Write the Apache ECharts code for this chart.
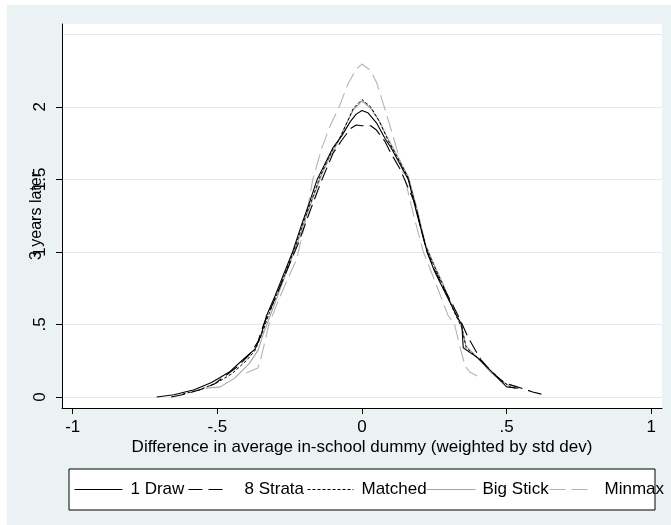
<!DOCTYPE html>
<html>
<head>
<meta charset="utf-8">
<script src="https://cdn.jsdelivr.net/npm/echarts@6/dist/echarts.min.js"></script>
<style>
  html, body { margin: 0; padding: 0; background: #ffffff; }
  #chart { width: 671px; height: 525px; }
</style>
</head>
<body>
<div id="chart"></div>
<script>
// Axis ticks and their Stata-style labels
const xTicks = [-1, -0.5, 0, 0.5, 1];
const xTickLabels = ['-1', '-.5', '0', '.5', '1'];
const yTicks = [0, 0.5, 1, 1.5, 2];
const yTickLabels = ['0', '.5', '1', '1.5', '2'];
const yGridLines = [0, 0.5, 1, 1.5, 2, 2.5];

const seriesNames = ['1 Draw', '8 Strata', 'Matched', 'Big Stick', 'Minmax'];

// Kernel density estimates, one pair of arrays per specification
const oneDrawX = [-0.71, -0.65, -0.58, -0.52, -0.46, -0.41, -0.37, -0.35, -0.33, -0.30, -0.27, -0.24, -0.21, -0.18, -0.155, -0.13, -0.10, -0.07, -0.04, -0.02, 0.00,
                  0.02, 0.05, 0.08, 0.10, 0.13, 0.16, 0.19, 0.225, 0.25, 0.287, 0.33, 0.345, 0.35, 0.40, 0.44, 0.47, 0.50, 0.54];
const oneDrawY = [0.00, 0.015, 0.05, 0.10, 0.17, 0.26, 0.33, 0.42, 0.56, 0.70, 0.85, 1.00, 1.18, 1.35, 1.50, 1.60, 1.72, 1.80, 1.90, 1.95, 1.975,
                  1.96, 1.89, 1.78, 1.72, 1.61, 1.50, 1.26, 1.00, 0.87, 0.72, 0.55, 0.50, 0.34, 0.27, 0.19, 0.13, 0.07, 0.06];

const eightStrataX = [-0.66, -0.61, -0.56, -0.51, -0.47, -0.43, -0.39, -0.36, -0.34, -0.30, -0.26, -0.22, -0.18, -0.14, -0.10, -0.07, -0.04, -0.02,
                      0.00, 0.03, 0.05, 0.08, 0.10, 0.132, 0.16, 0.184, 0.205, 0.225, 0.25, 0.28, 0.31, 0.34, 0.367, 0.41, 0.45, 0.49, 0.52, 0.56, 0.59, 0.62];
const eightStrataY = [0.00, 0.02, 0.05, 0.09, 0.15, 0.21, 0.29, 0.38, 0.50, 0.68, 0.87, 1.06, 1.28, 1.49, 1.68, 1.77, 1.85, 1.875,
                      1.87, 1.87, 1.84, 1.76, 1.68, 1.57, 1.44, 1.33, 1.15, 1.00, 0.88, 0.76, 0.65, 0.53, 0.41, 0.26, 0.17, 0.10, 0.08, 0.055, 0.035, 0.02];

const matchedX = [-0.62, -0.56, -0.50, -0.45, -0.40, -0.37, -0.345, -0.32, -0.29, -0.26, -0.23, -0.20, -0.17, -0.145, -0.12, -0.10, -0.08, -0.05, -0.03, 0.00,
                  0.03, 0.06, 0.09, 0.12, 0.16, 0.19, 0.22, 0.25, 0.28, 0.32, 0.345, 0.36, 0.40, 0.44, 0.48, 0.51, 0.53];
const matchedY = [0.02, 0.05, 0.10, 0.16, 0.25, 0.32, 0.44, 0.58, 0.73, 0.88, 1.04, 1.22, 1.38, 1.52, 1.63, 1.71, 1.77, 1.90, 1.99, 2.05,
                  2.00, 1.90, 1.77, 1.66, 1.51, 1.28, 1.04, 0.90, 0.77, 0.58, 0.48, 0.34, 0.27, 0.19, 0.12, 0.07, 0.06];

const bigStickX = [-0.54, -0.49, -0.44, -0.39, -0.36, -0.34, -0.31, -0.28, -0.25, -0.22, -0.19, -0.16, -0.14, -0.11, -0.09, -0.06, -0.03, 0.00,
                   0.03, 0.06, 0.09, 0.12, 0.16, 0.19, 0.22, 0.25, 0.28, 0.32, 0.345, 0.36, 0.40, 0.44, 0.48, 0.51, 0.535];
const bigStickY = [0.06, 0.07, 0.13, 0.23, 0.32, 0.44, 0.60, 0.76, 0.92, 1.08, 1.26, 1.42, 1.53, 1.66, 1.73, 1.86, 1.98, 2.04,
                   1.99, 1.90, 1.78, 1.67, 1.52, 1.30, 1.05, 0.91, 0.78, 0.59, 0.48, 0.35, 0.27, 0.18, 0.11, 0.08, 0.07];

const minmaxX = [-0.40, -0.36, -0.35, -0.322, -0.29, -0.26, -0.226, -0.20, -0.17, -0.14, -0.11, -0.079, -0.05, -0.02, 0.00,
                 0.03, 0.05, 0.077, 0.11, 0.149, 0.18, 0.212, 0.24, 0.267, 0.298, 0.31, 0.32, 0.339, 0.357, 0.374, 0.398];
const minmaxY = [0.165, 0.20, 0.26, 0.50, 0.66, 0.80, 0.95, 1.17, 1.50, 1.71, 1.87, 2.00, 2.15, 2.26, 2.295,
                 2.25, 2.17, 2.00, 1.78, 1.50, 1.24, 1.00, 0.86, 0.72, 0.56, 0.53, 0.50, 0.34, 0.21, 0.17, 0.145];

const pairs = (xs, ys) => xs.map((x, i) => [x, ys[i]]);

const lookupLabel = (ticks, labels) => v => {
  for (let i = 0; i < ticks.length; i++) {
    if (Math.abs(ticks[i] - v) < 1e-9) return labels[i];
  }
  return '';
};

const font = '"Liberation Sans", Arial, sans-serif';

const styles = [
  { color: '#000000', width: 1.1, type: 'solid' },
  { color: '#000000', width: 1.1, type: [14, 6] },
  { color: '#000000', width: 1.0, type: [3, 2] },
  { color: '#a4a4a4', width: 1.1, type: 'solid' },
  { color: '#b4b4b4', width: 1.1, type: [16, 6] }
];
const dataSets = [
  pairs(oneDrawX, oneDrawY),
  pairs(eightStrataX, eightStrataY),
  pairs(matchedX, matchedY),
  pairs(bigStickX, bigStickY),
  pairs(minmaxX, minmaxY)
];

// Legend key placement along the bottom box
const legendLeft = [74, 188, 307, 426, 549];
const legendKeyWidth = [48, 34, 46, 49, 44];
const legendTextPad = [3, 17, 3, 2, 6];

const chart = echarts.init(document.getElementById('chart'), null, { renderer: 'canvas' });

chart.setOption({
  animation: false,
  backgroundColor: '#eaf2f3',
  textStyle: { fontFamily: font },
  graphic: [
    { type: 'rect', shape: { x: 0, y: 0, width: 671, height: 5 }, style: { fill: '#ffffff' }, silent: true },
    { type: 'rect', shape: { x: 0, y: 0, width: 7, height: 525 }, style: { fill: '#ffffff' }, silent: true },
    { type: 'rect', shape: { x: 69, y: 469, width: 586, height: 41 },
      style: { fill: '#ffffff', stroke: '#000000', lineWidth: 1 }, silent: true }
  ],
  grid: {
    left: 62, right: 9, top: 24, bottom: 117,
    show: true, backgroundColor: '#ffffff', borderWidth: 0
  },
  xAxis: {
    type: 'value',
    min: -1.037, max: 1.037,
    name: 'Difference in average in-school dummy (weighted by std dev)',
    nameLocation: 'middle',
    nameGap: 31,
    nameMoveOverlap: false,
    nameTextStyle: { color: '#000', fontSize: 17, fontFamily: font },
    axisLine: { onZero: false, lineStyle: { color: '#000', width: 1 } },
    axisTick: { show: true, length: 6, customValues: xTicks, lineStyle: { color: '#000' } },
    axisLabel: { customValues: xTicks, formatter: lookupLabel(xTicks, xTickLabels),
                 color: '#000', fontSize: 17, margin: 11, fontFamily: font },
    splitLine: { show: false }
  },
  yAxis: [
    {
      type: 'value',
      min: -0.0758, max: 2.571,
      name: '3 years later',
      nameLocation: 'middle',
      nameGap: 17,
      nameMoveOverlap: false,
      nameTextStyle: { color: '#000', fontSize: 16, fontFamily: font },
      axisLine: { show: true, onZero: false, lineStyle: { color: '#000', width: 1 } },
      axisTick: { show: true, length: 6, customValues: yTicks, lineStyle: { color: '#000' } },
      axisLabel: { customValues: yTicks, formatter: lookupLabel(yTicks, yTickLabels),
                   rotate: 90, color: '#000', fontSize: 17, margin: 13, fontFamily: font },
      splitLine: { show: false }
    },
    {
      type: 'value',
      position: 'left',
      min: -0.0758, max: 2.571,
      axisLine: { show: false, onZero: false },
      axisTick: { show: false, customValues: yGridLines },
      axisLabel: { show: false, customValues: yGridLines },
      splitLine: { show: true, lineStyle: { color: '#dfe9ed', width: 1 } }
    }
  ],
  legend: seriesNames.map((name, i) => ({
    data: [name],
    left: legendLeft[i],
    top: 481,
    orient: 'horizontal',
    itemWidth: legendKeyWidth[i],
    itemHeight: 14,
    padding: 0,
    selectedMode: false,
    itemStyle: { opacity: 0 },
    lineStyle: { width: 1, type: styles[i].type, color: styles[i].color },
    textStyle: { color: '#000', fontSize: 17, fontFamily: font, padding: [0, 0, 0, legendTextPad[i]] }
  })),
  series: seriesNames.map((name, i) => ({
    name: name,
    type: 'line',
    yAxisIndex: 0,
    data: dataSets[i],
    showSymbol: false,
    symbol: 'none',
    smooth: false,
    z: 3 + (4 - i),
    lineStyle: styles[i],
    itemStyle: { color: styles[i].color }
  }))
});
</script>
</body>
</html>
